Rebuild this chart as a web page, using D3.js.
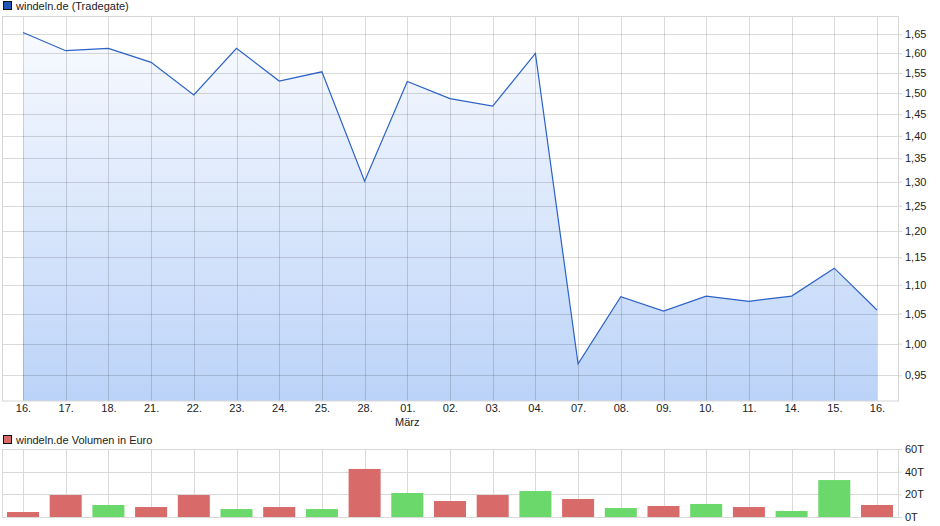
<!DOCTYPE html>
<html><head><meta charset="utf-8">
<script src="https://cdn.jsdelivr.net/npm/d3@7"></script>
<style>
body{margin:0;background:#fff;}
svg{display:block;font-family:"Liberation Sans",Arial,sans-serif;}
</style></head>
<body><svg id="c" width="940" height="526"></svg>
<script>
const dates = ["16.","17.","18.","21.","22.","23.","24.","25.","28.","01.","02.","03.","04.","07.","08.","09.","10.","11.","14.","15.","16."];
const prices = [1.655,1.607,1.613,1.577,1.496,1.613,1.530,1.553,1.301,1.529,1.487,1.469,1.600,0.968,1.079,1.054,1.080,1.071,1.080,1.130,1.056];
const volumes = [4.4,19.4,10.6,8.8,19.4,7.0,8.8,7.0,42.4,21.2,14.1,19.4,22.9,15.9,7.9,9.7,11.5,8.8,5.3,32.6,10.6];
const volUp = [0,0,1,0,0,1,0,1,0,1,0,0,1,0,1,0,1,0,1,1,0];
const priceTicks = [0.95,1.00,1.05,1.10,1.15,1.20,1.25,1.30,1.35,1.40,1.45,1.50,1.55,1.60,1.65];
const volTicks = [0,20,40,60];
const title1 = "windeln.de (Tradegate)";
const title2 = "windeln.de Volumen in Euro";
const monthLabel = "März";

const svg = d3.select("#c");
const L = 2, R = 898;
const idx = d3.range(dates.length);
const x = d3.scalePoint().domain(idx).range([23, 877]);
const y = d3.scaleLog().domain([0.9113, 1.699]).range([401, 16.3]);
const yv = d3.scaleLinear().domain([0, 60]).range([517, 449]);

const gridCol = "rgba(0,0,0,0.145)";
const fmt = d3.format(".2f");

// defs gradient
const defs = svg.append("defs");
const grad = defs.append("linearGradient").attr("id","g").attr("gradientUnits","userSpaceOnUse")
  .attr("x1",0).attr("x2",0).attr("y1",16).attr("y2",401);
grad.append("stop").attr("offset","0").attr("stop-color","#fbfcff");
grad.append("stop").attr("offset","1").attr("stop-color","#bbd3f8");

// legend 1
svg.append("rect").attr("x",3.5).attr("y",1.5).attr("width",8).attr("height",8).attr("fill","#1f55b8").attr("stroke","#111");
svg.append("text").attr("x",16).attr("y",10).attr("font-size",11).attr("fill","#222").text(title1);

// area + line
const area = d3.area().x((d,i)=>x(i)).y0(401).y1(d=>y(d));
svg.append("path").datum(prices).attr("d",area).attr("fill","url(#g)");

// grid main
const gm = svg.append("g");
gm.selectAll("line.h").data(priceTicks).join("line")
  .attr("x1",L).attr("x2",R).attr("y1",d=>Math.round(y(d))+0.5).attr("y2",d=>Math.round(y(d))+0.5)
  .attr("stroke",gridCol);
gm.selectAll("line.v").data(idx).join("line")
  .attr("y1",16).attr("y2",401).attr("x1",d=>Math.round(x(d))+0.5).attr("x2",d=>Math.round(x(d))+0.5)
  .attr("stroke",gridCol);
svg.append("rect").attr("x",L+0.5).attr("y",16.5).attr("width",R-L).attr("height",384.5)
  .attr("fill","none").attr("stroke","#d6d6d6");

const line = d3.line().x((d,i)=>x(i)).y(d=>y(d));
svg.append("path").datum(prices).attr("d",line).attr("fill","none").attr("stroke","#2b62c8").attr("stroke-width",1.2);

// y axis right
const ya = svg.append("g").attr("transform",`translate(${R},0)`)
  .call(d3.axisRight(y).tickValues(priceTicks).tickSize(4).tickFormat(d=>fmt(d).replace(".",",")));
ya.select(".domain").remove();
ya.selectAll("line").attr("stroke","#d6d6d6");
ya.selectAll("text").attr("font-size",11).attr("fill","#222").attr("font-family","Liberation Sans, Arial, sans-serif");

// x axis
const xa = svg.append("g").attr("transform","translate(0,401)")
  .call(d3.axisBottom(x).tickSize(0).tickPadding(3).tickFormat(i=>dates[i]));
xa.select(".domain").remove();
xa.selectAll("text").attr("font-size",11).attr("fill","#222").attr("font-family","Liberation Sans, Arial, sans-serif");
svg.append("text").attr("x",x(9)).attr("y",426).attr("text-anchor","middle").attr("font-size",11).attr("fill","#222").text(monthLabel);

// legend 2
svg.append("rect").attr("x",3.5).attr("y",435.5).attr("width",8).attr("height",8).attr("fill","#d96a6a").attr("stroke","#111");
svg.append("text").attr("x",16).attr("y",444).attr("font-size",11).attr("fill","#222").text(title2);

// volume grid
const gv = svg.append("g");
gv.selectAll("line.h").data(volTicks).join("line")
  .attr("x1",L).attr("x2",R).attr("y1",d=>Math.round(yv(d))+0.5).attr("y2",d=>Math.round(yv(d))+0.5)
  .attr("stroke","#d9d9d9");
gv.selectAll("line.v").data(idx).join("line")
  .attr("y1",449).attr("y2",517).attr("x1",d=>Math.round(x(d))+0.5).attr("x2",d=>Math.round(x(d))+0.5)
  .attr("stroke","#d9d9d9");
svg.append("line").attr("x1",L+0.5).attr("x2",L+0.5).attr("y1",449).attr("y2",517).attr("stroke","#d9d9d9");
svg.append("line").attr("x1",R+0.5).attr("x2",R+0.5).attr("y1",449).attr("y2",517).attr("stroke","#d9d9d9");

// bars
svg.append("g").selectAll("rect").data(volumes).join("rect")
  .attr("x",(d,i)=>x(i)-16).attr("width",32)
  .attr("y",d=>yv(d)).attr("height",d=>yv(0)-yv(d))
  .attr("fill",(d,i)=>volUp[i]?"#6ad86a":"#d96a6a");

// volume axis
const va = svg.append("g").attr("transform",`translate(${R},0)`)
  .call(d3.axisRight(yv).tickValues(volTicks).tickSize(4).tickFormat(d=>d+"T"));
va.select(".domain").remove();
va.selectAll("line").attr("stroke","#d9d9d9");
va.selectAll("text").attr("font-size",11).attr("fill","#222").attr("font-family","Liberation Sans, Arial, sans-serif");
</script></body></html>
